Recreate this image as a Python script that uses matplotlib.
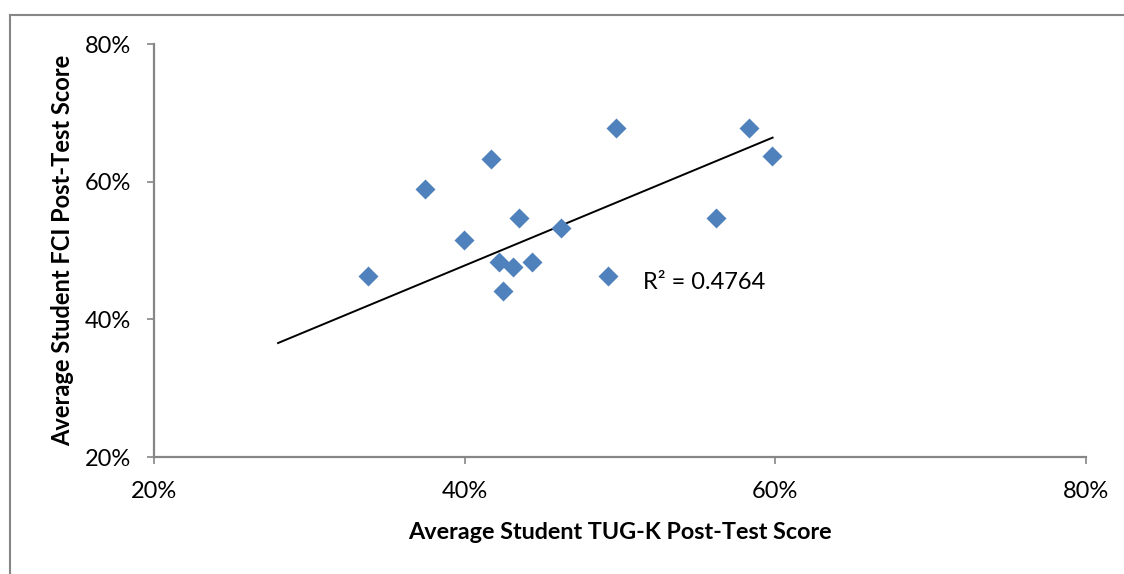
#!/usr/bin/env python3
"""
FCI vs TUG-K post-test scatter — class averages with linear trendline.
"""

import matplotlib
matplotlib.use("Agg")
import matplotlib.pyplot as plt
from matplotlib.lines import Line2D
from matplotlib.ticker import PercentFormatter

# class-average post-test scores (fraction)
TUGK_SCORE = [0.3375, 0.3744, 0.3996, 0.4168, 0.4220, 0.4244, 0.4313, 0.4351,
              0.4432, 0.4621, 0.4924, 0.4972, 0.5616, 0.5831, 0.5981]
FCI_SCORE  = [0.463, 0.590, 0.515, 0.633, 0.484, 0.441, 0.476, 0.547,
              0.484, 0.532, 0.463, 0.6775, 0.547, 0.678, 0.638]

# Excel linear trendline as drawn (backward forecast to ~28%)
TREND_X = [0.2797, 0.5983]
TREND_Y = [0.3656, 0.6640]
R2_LABEL = "R² = 0.4764"

TICKS = [0.2, 0.4, 0.6, 0.8]
X_LABEL = "Average Student TUG-K Post-Test Score"
Y_LABEL = "Average Student FCI Post-Test Score"

GREY = "#868686"
BLUE = "#4F81BD"


def plot_scatter():
    plt.rcParams["font.family"] = ["Lato", "DejaVu Sans"]
    fig = plt.figure(figsize=(11.24, 5.74), dpi=100)
    ax = fig.add_axes([0.1373, 0.2038, 0.8286, 0.7195])

    ax.plot(TUGK_SCORE, FCI_SCORE, "D", color=BLUE, ms=10.5, mec="none", zorder=3)
    ax.plot(TREND_X, TREND_Y, color="black", lw=1.4, zorder=2)
    ax.text(0.5145, 0.454, R2_LABEL, fontsize=17, va="center", ha="left")

    ax.set_xlim(0.2, 0.8)
    ax.set_ylim(0.2, 0.8)
    ax.set_xticks(TICKS)
    ax.set_yticks(TICKS)
    ax.xaxis.set_major_formatter(PercentFormatter(1.0, decimals=0))
    ax.yaxis.set_major_formatter(PercentFormatter(1.0, decimals=0))
    ax.tick_params(direction="out", length=5, width=1.2, color=GREY,
                   labelsize=17, pad=12)

    for side in ("top", "right"):
        ax.spines[side].set_visible(False)
    for side in ("left", "bottom"):
        ax.spines[side].set_color(GREY)
        ax.spines[side].set_linewidth(1.6)

    ax.set_xlabel(X_LABEL, fontsize=16.8, fontweight="bold", labelpad=15)
    ax.set_ylabel(Y_LABEL, fontsize=17, fontweight="bold", labelpad=7)

    # chart-area border (right and bottom edges fall outside the image)
    fx0, fy0 = 10 / 1124, 1 - 15 / 574
    fig.add_artist(Line2D([fx0, fx0], [0, fy0], color=GREY, lw=1.5))
    fig.add_artist(Line2D([fx0, 1.0], [fy0, fy0], color=GREY, lw=1.5))

    fig.savefig("out.png", dpi=100, facecolor="white")
    plt.close(fig)


def main():
    plot_scatter()


if __name__ == "__main__":
    main()
